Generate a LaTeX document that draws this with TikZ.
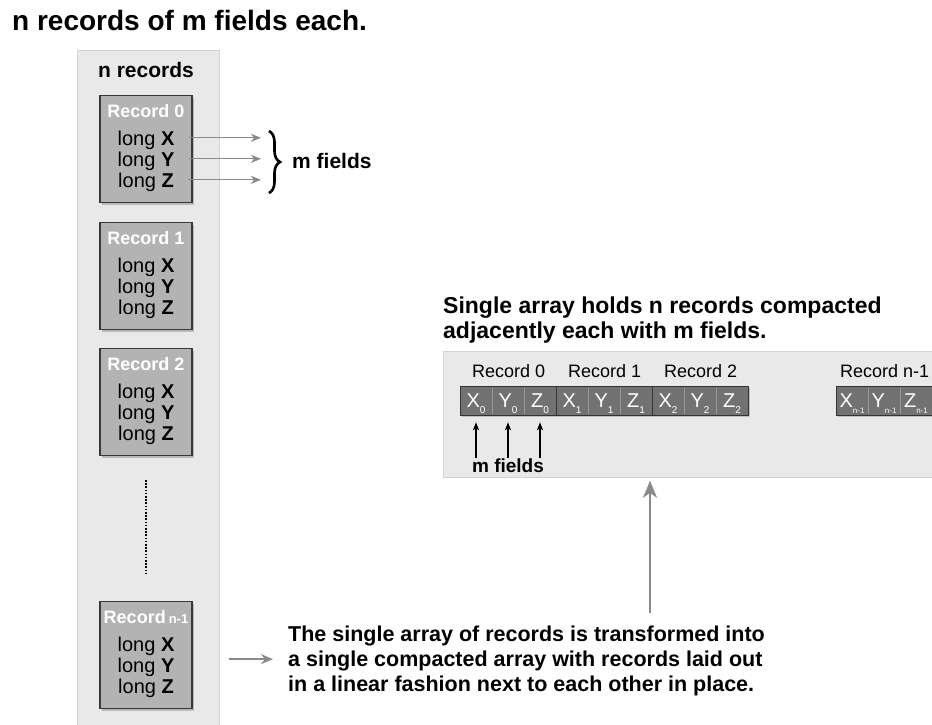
\documentclass[tikz,border=0pt]{standalone}
\usepackage{fontspec}
\setmainfont{Liberation Sans}
\usetikzlibrary{arrows.meta,shadows,calc,decorations.pathreplacing}

\definecolor{panelfill}{HTML}{E9E9E9}
\definecolor{paneldraw}{HTML}{D3D3D3}
\definecolor{recfill}{HTML}{B3B3B3}
\definecolor{cellfill}{HTML}{727272}
\definecolor{arrowgray}{HTML}{8A8A8A}

\newcommand{\fs}[1]{\fontsize{#1}{#1}\selectfont}
\newcommand{\cellsub}[2]{\raisebox{-6pt}{\fs{#1}#2}}

\tikzset{
  panel/.style={fill=panelfill, draw=paneldraw, line width=0.8pt},
  recbox/.style={draw=black!78, fill=recfill, line width=1.3pt,
    minimum width=92, minimum height=107, inner sep=0,
    drop shadow={shadow xshift=2pt, shadow yshift=-2pt, opacity=0.45}},
  rectitle/.style={text=white, font=\fs{18}\bfseries, inner sep=0},
  field/.style={font=\fs{20}, inner sep=0},
  cellgroup/.style={draw=black!80, fill=cellfill, line width=1.2pt,
    minimum width=96, minimum height=29, inner sep=0,
    drop shadow={shadow xshift=1.5pt, shadow yshift=-1.5pt, opacity=0.4}},
  cell/.style={text=white, font=\fs{20}, inner sep=0},
  fieldarrow/.style={draw=arrowgray, line width=1.1pt,
    -{Stealth[length=10pt, width=8pt, inset=3pt]}},
  uparrow/.style={draw=black, line width=1.2pt,
    -{Stealth[length=8pt, width=6pt, inset=2pt]}},
  bigarrow/.style={draw=arrowgray, line width=2.6pt,
    -{Stealth[length=17pt, width=14pt, inset=5pt]}},
  sidearrow/.style={draw=arrowgray, line width=1.8pt,
    -{Stealth[length=12pt, width=10pt, inset=4pt]}}
}

\begin{document}
\begin{tikzpicture}[x=1pt, y=-1pt]
\useasboundingbox (0,0) rectangle (932,724);

\node[anchor=base west, font=\fs{28}\bfseries, inner sep=0] (title) at (12,30)
  {n records of m fields each.};

% column of records
\draw[panel] (77,50) rectangle (219,740);
\node[anchor=base, font=\fs{21}\bfseries, inner sep=0] (nrec) at (146,77) {n records};

\foreach \k/\y in {0/95,1/222,2/348}{
  \node[recbox, anchor=north] (rec\k) at (146,\y) {};
  \node[rectitle, anchor=base] at ($(rec\k.north)+(0,22)$) {Record \k};
  \foreach \f/\d in {X/50,Y/71,Z/92}
    \node[field, anchor=base] (rec\k\f) at ($(rec\k.north)+(0,\d)$) {long \textbf{\f}};
}

\draw[black, line width=2pt, dash pattern=on 1.6pt off 1.6pt] (146,480) -- (146,573);

\node[recbox, anchor=north] (recn) at (146,601) {};
\node[rectitle, anchor=base] at ($(recn.north)+(0,22)$) {Record\,{\fs{13}n-1}};
\foreach \f/\d in {X/50,Y/71,Z/92}
  \node[field, anchor=base] (recn\f) at ($(recn.north)+(0,\d)$) {long \textbf{\f}};

% the m fields of record 0
\coordinate (brtop) at (269,131);
\coordinate (brbot) at (269,193);
\draw[line width=2.6pt, decorate, decoration={brace, amplitude=11pt}] (brtop) -- (brbot);
\node[anchor=base west, font=\fs{21}\bfseries, inner sep=0] (mfa) at (292,168) {m fields};
\foreach \f in {X,Y,Z}
  \draw[fieldarrow] ([xshift=14pt, yshift=2pt]rec0\f.east) -- ([yshift=2pt]rec0\f.east -| 261,0);

% compacted array
\node[anchor=base west, font=\fs{23}\bfseries, inner sep=0] (arrtitle) at (443,313)
  {Single array holds n records compacted};
\node[anchor=base west, font=\fs{23}\bfseries, inner sep=0] at (443,338)
  {adjacently each with m fields.};
\node[panel, anchor=north west, minimum width=520, minimum height=126, inner sep=0] (arr) at (443,351) {};

\foreach \g/\x/\s/\z in {0/460/0/10,1/556/1/10,2/652/2/10,n/836/n-1/8}{
  \node[cellgroup, anchor=north west] (grp\g) at (\x,386) {};
  \node[anchor=base, font=\fs{18}, inner sep=0] at ($(grp\g.north)+(0,-9)$) {Record \s};
  \foreach \i in {1,2}
    \draw[black!40, line width=0.8pt] ($(grp\g.north west)+(32*\i,2)$) -- ($(grp\g.south west)+(32*\i,-2)$);
  \foreach \f/\c in {X/16,Y/48,Z/80}
    \node[cell, anchor=base] (c\g\f) at ($(grp\g.north west)+(\c,21)$) {\f\cellsub{\z}{\s}};
}

\node[anchor=base, font=\fs{19}\bfseries, inner sep=0] (mfb) at (508,472) {m fields};
\foreach \f in {X,Y,Z}
  \draw[uparrow] (c0\f |- mfb.north) -- ([yshift=-6pt]c0\f |- grp0.south);

% transformation note
\node[anchor=north west, font=\fs{21.5}\bfseries, inner sep=0, align=left] (desc) at (288,626)
  {The single array of records is transformed into\\[3.5pt]
   a single compacted array with records laid out\\[3.5pt]
   in a linear fashion next to each other in place.};
\coordinate (tail) at (650,613);
\draw[bigarrow] (tail) -- ([yshift=-3pt]tail |- arr.south);
\draw[sidearrow] ([xshift=36pt, yshift=-4pt]recn.east) -- ([xshift=-15pt, yshift=-4pt]recn.east -| desc.west);
\end{tikzpicture}
\end{document}
